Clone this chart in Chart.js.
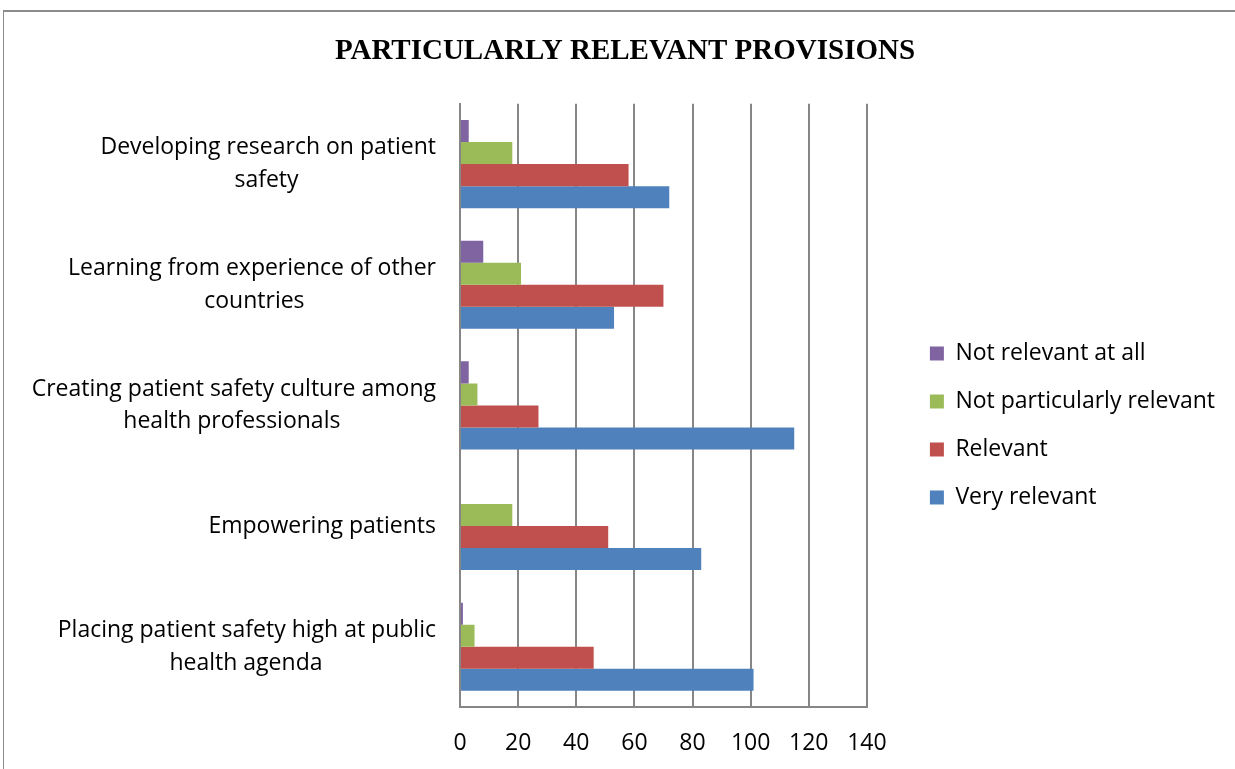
<!DOCTYPE html>
<html>
<head>
<meta charset="utf-8">
<script src="https://cdn.jsdelivr.net/npm/chart.js@4/dist/chart.umd.min.js"></script>
<style>
  html, body { margin: 0; padding: 0; background: #fff; overflow: hidden; }
  #frame {
    position: absolute; left: 3px; top: 10px;
    width: 1240px; height: 770px;
    border-left: 1px solid #8c8c8c; border-top: 2px solid #8c8c8c;
  }
  #chart { display: block; }
</style>
</head>
<body>
<div id="frame"><canvas id="chart" width="1231" height="757"></canvas></div>
<script>
// categories (top to bottom)
const categories = [
    ['Developing research on patient', 'safety'],
    ['Learning from experience of other', 'countries'],
    ['Creating patient safety culture among', 'health professionals'],
    ['Empowering patients'],
    ['Placing patient safety high at public', 'health agenda']
];

// series values
const notRelevantAtAll = [3, 8, 3, 0, 1];
const notParticularlyRelevant = [18, 21, 6, 18, 5];
const relevant = [58, 70, 27, 51, 46];
const veryRelevant = [72, 53, 115, 83, 101];

// value axis ticks
const xTicks = [0, 20, 40, 60, 80, 100, 120, 140];

const labelFont = { family: 'Open Sans', size: 23, lineHeight: 1.43 };

// pad shorter lines so each label block is centred, block right aligned
const measureCtx = document.createElement('canvas').getContext('2d');
measureCtx.font = labelFont.size + 'px "' + labelFont.family + '"';
function centreLines(lines) {
    const widths = lines.map(l => measureCtx.measureText(l).width);
    const maxW = Math.max(...widths);
    const spaceW = measureCtx.measureText(' ').width;
    return lines.map((l, i) => l + ' '.repeat(Math.round((maxW - widths[i]) / 2 / spaceW)));
}

function noEdgePadding(s) {
    s.paddingTop = 0;
    s.paddingBottom = 0;
}

const ctx = document.getElementById('chart').getContext('2d');
new Chart(ctx, {
    type: 'bar',
    data: {
        labels: categories,
        datasets: [
            { label: 'Not relevant at all', data: notRelevantAtAll, backgroundColor: '#8064A2' },
            { label: 'Not particularly relevant', data: notParticularlyRelevant, backgroundColor: '#9BBB59' },
            { label: 'Relevant', data: relevant, backgroundColor: '#C0504D' },
            { label: 'Very relevant', data: veryRelevant, backgroundColor: '#4F81BD' }
        ]
    },
    options: {
        indexAxis: 'y',
        responsive: false,
        animation: false,
        layout: { padding: { left: 21, right: 10, top: 0, bottom: 12 } },
        datasets: {
            bar: { categoryPercentage: 0.73, barPercentage: 1.0, borderWidth: 0 }
        },
        plugins: {
            title: {
                display: true,
                text: 'PARTICULARLY RELEVANT PROVISIONS',
                color: '#000',
                font: { family: 'Liberation Serif', size: 29, weight: 'bold', lineHeight: 1.2 },
                padding: { top: 22, bottom: 35 }
            },
            legend: {
                position: 'right',
                maxWidth: 400,
                // blank title only pushes the items down a bit
                title: { display: true, text: '', font: { size: 10 }, padding: 35 },
                labels: {
                    color: '#000',
                    font: { family: 'Open Sans', size: 23 },
                    boxWidth: 14,
                    boxHeight: 14,
                    padding: 25
                }
            },
            tooltip: { enabled: false }
        },
        scales: {
            x: {
                min: 0,
                max: 140,
                afterBuildTicks: s => { s.ticks = xTicks.map(v => ({ value: v })); },
                afterFit: s => { s.height = 50; },
                grid: { color: '#868686', lineWidth: 2, drawTicks: false },
                border: { color: '#868686', width: 2 },
                ticks: { color: '#000', font: { family: 'Open Sans', size: 23 }, padding: 23 }
            },
            y: {
                afterFit: s => { s.width = 435; noEdgePadding(s); },
                grid: { display: false },
                border: { display: true, color: '#868686', width: 2 },
                ticks: {
                    color: '#000',
                    font: labelFont,
                    padding: 16,
                    callback: function (value, index) {
                        return centreLines(categories[index]);
                    }
                }
            },
            // empty spacer between plot and legend
            gap: {
                type: 'category',
                axis: 'y',
                position: 'right',
                afterFit: s => { s.width = 38; noEdgePadding(s); },
                grid: { display: false },
                border: { display: false },
                ticks: { display: false }
            }
        }
    }
});
</script>
</body>
</html>
